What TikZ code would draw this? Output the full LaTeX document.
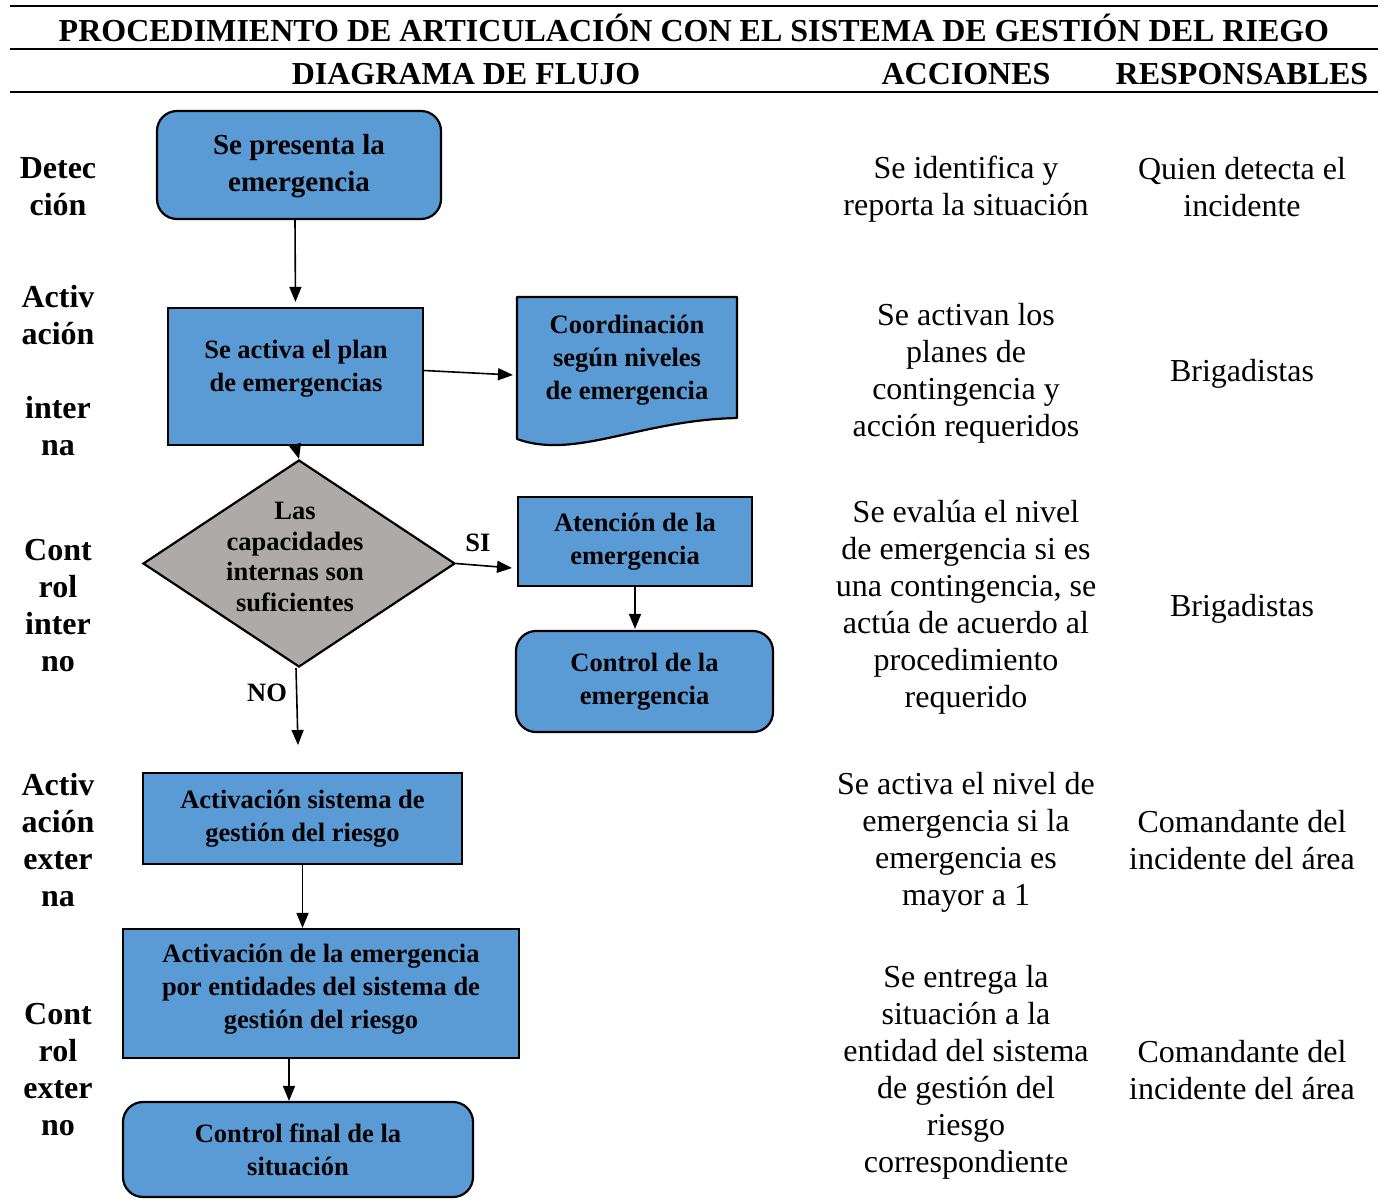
\documentclass[tikz,border=0pt]{standalone}
\usepackage{fontspec}
\setmainfont{Liberation Serif}
\usetikzlibrary{shapes.geometric,arrows.meta}
\definecolor{boxblue}{HTML}{5B9BD5}
\definecolor{diagray}{HTML}{AEAAAA}
\tikzset{
  hdr/.style={font=\fontsize{32}{37}\selectfont\bfseries, inner sep=0, anchor=base},
  coltext/.style={font=\fontsize{32}{37}\selectfont, align=center, inner sep=0},
  lefttext/.style={font=\fontsize{32}{37}\selectfont\bfseries, align=center, inner sep=0},
  boxtext/.style={font=\fontsize{26.5}{33}\selectfont\bfseries, align=center, inner sep=0},
  flowbox/.style={draw, line width=2.2pt, fill=boxblue, inner sep=0, font=\fontsize{26.5}{33}\selectfont\bfseries, align=center},
  roundbox/.style={flowbox, rounded corners=20pt},
  conn/.style={line width=1.6pt, -{Triangle[length=15pt,width=12pt]}},
  rulebar/.style={line width=1.8pt},
  yesno/.style={font=\fontsize{26.5}{33}\selectfont\bfseries, inner sep=0}
}
\begin{document}
\begin{tikzpicture}[x=1pt,y=-1pt]
\useasboundingbox (0,0) rectangle (1386,1200);

% header rules
\draw[rulebar] (10,6) -- (1378,6);
\draw[rulebar] (10,49) -- (1378,49);
\draw[rulebar] (10,92) -- (1378,92);

\node[hdr] (title) at (694,41) {PROCEDIMIENTO DE ARTICULACIÓN CON EL SISTEMA DE GESTIÓN DEL RIEGO};
\node[hdr] (hflujo) at (466,84) {DIAGRAMA DE FLUJO};
\node[hdr] (hacc) at (966,84) {ACCIONES};
\node[hdr] (hresp) at (1242,84) {RESPONSABLES};

% left labels
\node[lefttext] (l1) at (58,187) {Detec\\ción};
\node[lefttext] (l2) at (58,371) {Activ\\ación\\[37pt]inter\\na};
\node[lefttext] (l3) at (58,606) {Cont\\rol\\inter\\no};
\node[lefttext] (l4) at (58,840.5) {Activ\\ación\\exter\\na};
\node[lefttext] (l5) at (58,1070) {Cont\\rol\\exter\\no};

% flow boxes
\node[roundbox, minimum width=284pt, minimum height=108pt] (b1) at (299,165) {};
\node[font=\fontsize{29}{37}\selectfont\bfseries, align=center, inner sep=0] (b1t) at (299,166.5) {Se presenta la\\emergencia};
\node[flowbox, minimum width=255pt, minimum height=137pt] (b2) at (295.5,376.5) {};
\node[boxtext] (b2t) at (296,369) {Se activa el plan\\de emergencias};

% document shape
\draw[line width=2.2pt, fill=boxblue, line join=round]
  (517,439) -- (517,297) -- (737,297) -- (737,418)
  .. controls (640,420) and (575,460) .. (517,439) -- cycle;
\node[boxtext] (doct) at (627,360.5) {Coordinación\\según niveles\\de emergencia};
\coordinate (docin) at (513,375);

\node[draw, line width=2.2pt, fill=diagray, shape=diamond, inner sep=0,
      minimum width=312pt, minimum height=207pt] (dia) at (299,563.5) {};
\node[font=\fontsize{26.5}{30.7}\selectfont\bfseries, align=center, inner sep=0] (diat) at (295,557) {Las\\capacidades\\internas son\\suficientes};
\coordinate (siend) at (512,568);
\coordinate (noend) at (298,745);

\node[flowbox, minimum width=234pt, minimum height=89pt] (b5) at (635,541.5) {};
\node[boxtext] (b5t) at (635,542) {Atención de la\\emergencia};
\node[roundbox, minimum width=257pt, minimum height=101pt] (b6) at (644.5,681.5) {Control de la\\emergencia};
\node[flowbox, minimum width=319pt, minimum height=91pt] (b7) at (302.5,818.5) {Activación sistema de\\gestión del riesgo};
\node[flowbox, minimum width=396pt, minimum height=129pt] (b8) at (321,993.5) {};
\node[boxtext] (b8t) at (321,989.5) {Activación de la emergencia\\por entidades del sistema de\\gestión del riesgo};
\node[roundbox, minimum width=350pt, minimum height=95pt] (b9) at (298,1149.5) {Control final de la\\situación};

% connectors
\draw[conn, shorten >=5pt] ([xshift=-4pt]b1.south) -- (b2.north);
\draw[conn] ([yshift=6pt]b2.east) -- (docin);
\draw[conn] (b2.south) -- (dia.north);
\draw[conn] (dia.east) -- (siend);
\draw[conn] ([xshift=-3pt]dia.south) -- (noend);
\draw[conn, shorten >=1pt] (b5.south) -- (b5.south |- b6.north);
\draw[conn] (b7.south) -- (b7.south |- b8.north);
\draw[conn] ([xshift=-32pt]b8.south) -- ([xshift=-32pt]b8.south |- b9.north);

\node[yesno] (si) at (478,543) {SI};
\node[yesno] (no) at (267,692.5) {NO};

% acciones column
\node[coltext] (a1) at (966,189) {Se identifica y\\reporta la situación};
\node[coltext] (a2) at (966,373) {Se activan los\\planes de\\contingencia y\\acción requeridos};
\node[coltext] (a3) at (966,607.5) {Se evalúa el nivel\\de emergencia si es\\una contingencia, se\\actúa de acuerdo al\\procedimiento\\requerido};
\node[coltext] (a4) at (966,842.5) {Se activa el nivel de\\emergencia si la\\emergencia es\\mayor a 1};
\node[coltext] (a5) at (966,1072.5) {Se entrega la\\situación a la\\entidad del sistema\\de gestión del\\riesgo\\correspondiente};

% responsables column
\node[coltext] (r1) at (1242,187.5) {Quien detecta el\\incidente};
\node[coltext] (r2) at (1242,374) {Brigadistas};
\node[coltext] (r3) at (1242,609) {Brigadistas};
\node[coltext] (r4) at (1242,840.5) {Comandante del\\incidente del área};
\node[coltext] (r5) at (1242,1070.5) {Comandante del\\incidente del área};
\end{tikzpicture}
\end{document}
